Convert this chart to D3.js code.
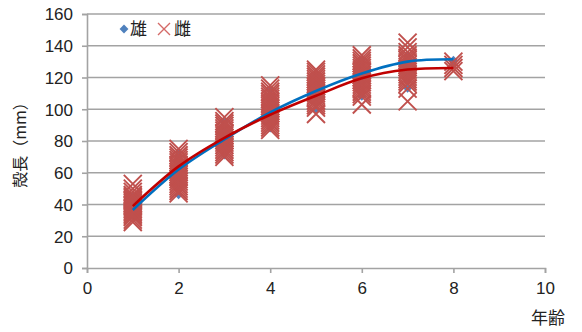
<!DOCTYPE html>
<html>
<head>
<meta charset="utf-8">
<script src="https://cdn.jsdelivr.net/npm/d3@7"></script>
<style>
  html, body { margin: 0; padding: 0; background: #fff; }
  svg { display: block; }
  text { font-family: "Liberation Sans", Arial, sans-serif; fill: #222; }
  .jp { font-family: "Noto Sans CJK JP", sans-serif; }
</style>
</head>
<body>
<svg id="chart" width="582" height="332"></svg>
<script>
// Shell length (mm) of individuals by age, males and females
const ages = [1, 2, 3, 4, 5, 6, 7, 8];
const maleByAge = [
  [33, 35, 37, 38, 40, 42, 45],
  [46, 50, 53, 56, 58, 61, 64, 67, 70, 73],
  [71, 74, 77, 80, 83, 86, 89, 92],
  [88, 92, 96, 99, 102, 105, 108, 112],
  [100, 104, 108, 111, 114, 117, 121],
  [108, 111, 114, 117, 119, 122, 125, 128, 131],
  [113, 118, 122, 125, 128, 131, 134],
  [128, 130, 131]
];
const femaleByAge = [
  [29, 30.5, 32, 33, 34, 35, 36, 37, 38, 39, 40, 41, 42, 43, 44, 45, 46, 48, 50, 53],
  [47, 48.5, 50, 51.5, 53, 54.5, 56, 57.5, 59, 60.5, 62, 63.5, 65, 66.5, 68, 69.5, 71, 73, 75],
  [70, 71.5, 73, 74.5, 76, 77.5, 79, 80.5, 82, 83.5, 85, 86.5, 88, 89.5, 91, 92.5, 95],
  [87, 88.5, 90, 91.5, 93, 94.5, 96, 97.5, 99, 100.5, 102, 103.5, 105, 106.5, 108, 109.5, 111, 113, 115],
  [97, 101, 102.5, 104, 105.5, 107, 108.5, 110, 111.5, 113, 114.5, 116, 117.5, 119, 120.5, 122, 123.5, 125],
  [103, 108, 109.5, 111, 112.5, 114, 115.5, 117, 118.5, 120, 121.5, 123, 124.5, 126, 127.5, 129, 130.5, 132, 134],
  [105, 113, 116, 117.5, 119, 120.5, 122, 123.5, 125, 126.5, 128, 129.5, 131, 132.5, 134, 136, 139, 142],
  [124, 126, 128, 130]
];
// Mean shell length per age (growth lines)
const maleMean = [36.5, 62, 81, 98, 111.5, 122.5, 130, 131.5];
const femaleMean = [39, 64, 82, 96.5, 108.5, 119.5, 125, 126];

const xTicks = [0, 2, 4, 6, 8, 10];
const yTicks = [0, 20, 40, 60, 80, 100, 120, 140, 160];
const seriesNames = ["雄", "雌"];
const yTitle = "殻長（mm）";
const xTitle = "年齢";

const svg = d3.select("#chart");
const x = d3.scaleLinear().domain([0, 10]).range([87, 545]);
const y = d3.scaleLinear().domain([0, 160]).range([268, 14]);

const gridColor = "#a3a3a3";

// horizontal gridlines
svg.append("g").selectAll("line").data(yTicks.filter(d => d > 0)).join("line")
  .attr("x1", x(0)).attr("x2", x(10))
  .attr("y1", d => y(d)).attr("y2", d => y(d))
  .attr("stroke", gridColor).attr("stroke-width", 1.6);

// axes
const yAxis = svg.append("g").attr("transform", `translate(${x(0)},0)`)
  .call(d3.axisLeft(y).tickValues(yTicks).tickSize(5).tickPadding(9));
const xAxis = svg.append("g").attr("transform", `translate(0,${y(0)})`)
  .call(d3.axisBottom(x).tickValues(xTicks).tickSize(5).tickPadding(9));
[yAxis, xAxis].forEach(g => {
  g.select(".domain").attr("stroke", gridColor).attr("stroke-width", 1.6);
  g.selectAll(".tick line").attr("stroke", gridColor).attr("stroke-width", 1.6);
  g.selectAll(".tick text").attr("font-size", 17).attr("fill", "#222")
    .attr("font-family", "'Liberation Sans', Arial, sans-serif");
});
yAxis.selectAll(".tick text").attr("dy", "0.35em");

// male points (diamonds)
const malePts = ages.flatMap((a, i) => maleByAge[i].map(v => ({ a, v })));
const femalePts = ages.flatMap((a, i) => femaleByAge[i].map(v => ({ a, v })));
const diamond = d3.symbol().type(d3.symbolDiamond2).size(45);

svg.append("g").selectAll("path").data(malePts).join("path")
  .attr("d", diamond)
  .attr("transform", d => `translate(${x(d.a)},${y(d.v)})`)
  .attr("fill", "#4f81bd");

// female points (crosses)
const h = 9;
svg.append("g").selectAll("path").data(femalePts).join("path")
  .attr("d", d => {
    const cx = x(d.a), cy = y(d.v);
    return `M${cx - h},${cy - h}L${cx + h},${cy + h}M${cx - h},${cy + h}L${cx + h},${cy - h}`;
  })
  .attr("stroke", "#c0504d").attr("stroke-width", 1.9).attr("fill", "none");

// growth lines
const line = d3.line().x((d, i) => x(ages[i])).y(d => y(d)).curve(d3.curveCatmullRom.alpha(0.5));
svg.append("path").datum(maleMean).attr("d", line)
  .attr("fill", "none").attr("stroke", "#0070c0").attr("stroke-width", 2.6);
svg.append("path").datum(femaleMean).attr("d", line)
  .attr("fill", "none").attr("stroke", "#c00000").attr("stroke-width", 2.6);

// legend
const lg = svg.append("g");
lg.append("path").attr("d", d3.symbol().type(d3.symbolDiamond2).size(50))
  .attr("transform", "translate(124,29)").attr("fill", "#4f81bd");
lg.append("text").attr("class", "jp").attr("x", 130).attr("y", 35)
  .attr("font-size", 17).text(seriesNames[0]);
lg.append("path").attr("d", "M158,23L170,35M158,35L170,23")
  .attr("stroke", "#d46a67").attr("stroke-width", 1.4);
lg.append("text").attr("class", "jp").attr("x", 174).attr("y", 35)
  .attr("font-size", 17).text(seriesNames[1]);

// axis titles
svg.append("text").attr("class", "jp")
  .attr("transform", "translate(26,141) rotate(-90)")
  .attr("text-anchor", "middle").attr("font-size", 16).text(yTitle);
svg.append("text").attr("class", "jp")
  .attr("x", 548).attr("y", 324).attr("text-anchor", "middle")
  .attr("font-size", 17).text(xTitle);
</script>
</body>
</html>
